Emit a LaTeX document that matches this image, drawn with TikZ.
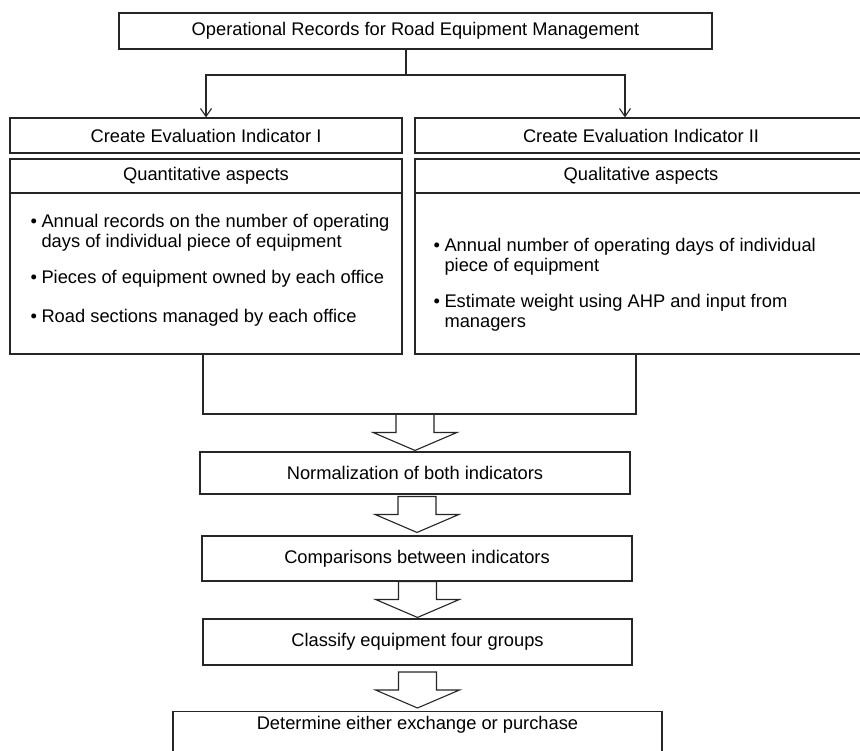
\documentclass[tikz,border=0pt]{standalone}
\usepackage{fontspec}
\setmainfont{Liberation Sans}
\usetikzlibrary{arrows.meta}

\newcommand{\bul}{\makebox[11pt][l]{•}}
\newcommand{\ind}{\hspace*{11pt}}

\begin{document}
\begin{tikzpicture}[x=1pt,y=-1pt,line width=1.1pt,
    box/.style={draw=black!85,rectangle,inner sep=0pt,font=\fontsize{18.3}{20}\selectfont},
    bullets/.style={align=left,inner sep=0pt,anchor=north west,font=\fontsize{18.3}{20}\selectfont},
    arr/.style={draw=black!85,-{Straight Barb[length=8pt,width=11pt]}},
    barrow/.pic={\draw[black!85,fill=white] (0,0) -- (-42,-18) -- (-19,-18) -- (-19,-36)
        -- (19,-36) -- (19,-18) -- (42,-18) -- cycle;}]
  \useasboundingbox (0,0) rectangle (860,751);

  % Records
  \node[box,minimum width=593pt,minimum height=36pt] (rec) at (415.5,31)
    {Operational Records for Road Equipment Management};

  % Indicator I and II
  \node[box,minimum width=392pt,minimum height=35pt] (ind1) at (206,135.5) {Create Evaluation Indicator I};
  \node[box,minimum width=452pt,minimum height=35pt] (ind2) at (641,135.5) {Create Evaluation Indicator II};

  % Aspects
  \node[box,minimum width=392pt,minimum height=34pt] (asp1) at (206,176) {Quantitative aspects};
  \node[box,minimum width=452pt,minimum height=34pt] (asp2) at (641,176) {Qualitative aspects};
  \node[box,minimum width=392pt,minimum height=161pt] (det1) at (206,273.5) {};
  \node[box,minimum width=452pt,minimum height=161pt] (det2) at (641,273.5) {};

  \node[bullets] (qnt) at (30,214)
    {\bul Annual records on the number of operating\\ \ind days of individual piece of equipment\\[16pt]
     \bul Pieces of equipment owned by each office\\[19pt]
     \bul Road sections managed by each office};
  \node[bullets] (qlt) at (433,238)
    {\bul Annual number of operating days of individual\\ \ind piece of equipment\\[16pt]
     \bul Estimate weight using AHP and input from\\ \ind managers};

  % Split
  \coordinate (sp) at (406,75);
  \coordinate (sl) at (206,75);
  \coordinate (sr) at (625,75);
  \draw[black!85] (rec.south -| sp) -- (sp);
  \draw[arr] (sp) -- (sl) -- (ind1.north);
  \draw[arr] (sp) -- (sr) -- (sr |- ind2.north);

  % Join
  \coordinate (jl) at (203,414);
  \coordinate (jr) at (636,414);
  \draw[black!85] (det1.south -| jl) -- (jl) -- (jr) -- (det2.south -| jr);

  % Steps
  \node[box,minimum width=430pt,minimum height=42pt] (norm) at (415,473) {Normalization of both indicators};
  \node[box,minimum width=430pt,minimum height=45pt] (comp) at (417,558.5) {Comparisons between indicators};
  \node[box,minimum width=429pt,minimum height=46pt] (clas) at (417.5,642) {Classify equipment four groups};
  \node[box,minimum width=489pt,anchor=north,text height=13pt,text depth=36pt,inner ysep=5pt] (dete)
    at (417.5,711) {Determine either exchange or purchase};

  \pic at ([yshift=1pt]norm.north) {barrow};
  \pic at ([yshift=3pt]comp.north) {barrow};
  \pic at ([yshift=1pt]clas.north) {barrow};
  \pic at ([yshift=3pt]dete.north) {barrow};
\end{tikzpicture}
\end{document}
